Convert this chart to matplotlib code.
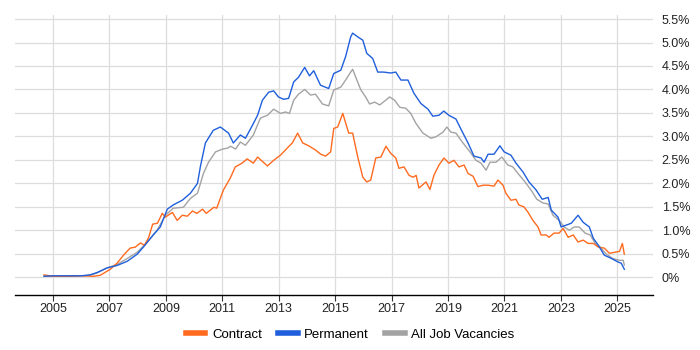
import matplotlib
matplotlib.use("Agg")
import matplotlib.pyplot as plt
from matplotlib.ticker import FuncFormatter
from matplotlib.lines import Line2D

plt.rcParams['font.family'] = ['Liberation Sans', 'DejaVu Sans']

contract_years = [2004.68, 2005.0, 2005.5, 2006.0, 2006.43, 2006.67, 2007.03, 2007.27, 2007.5, 2007.73,
                  2007.91, 2008.1, 2008.24, 2008.39, 2008.53, 2008.7, 2008.87, 2008.98, 2009.23, 2009.4,
                  2009.58, 2009.76, 2009.94, 2010.1, 2010.3, 2010.43, 2010.7, 2010.8, 2011.04, 2011.28,
                  2011.46, 2011.7, 2011.88, 2012.1, 2012.25, 2012.6, 2012.82, 2013.06, 2013.3, 2013.48,
                  2013.67, 2013.85, 2014.06, 2014.3, 2014.49, 2014.66, 2014.84, 2014.95, 2015.09, 2015.27,
                  2015.48, 2015.62, 2015.8, 2015.98, 2016.12, 2016.26, 2016.44, 2016.62, 2016.8, 2016.97,
                  2017.15, 2017.26, 2017.44, 2017.62, 2017.76, 2017.87, 2017.97, 2018.22, 2018.36, 2018.5,
                  2018.68, 2018.86, 2019.03, 2019.21, 2019.39, 2019.57, 2019.71, 2019.89, 2020.06, 2020.24,
                  2020.42, 2020.63, 2020.77, 2020.95, 2021.05, 2021.23, 2021.41, 2021.51, 2021.69, 2021.83,
                  2022.01, 2022.19, 2022.3, 2022.48, 2022.58, 2022.76, 2022.94, 2023.08, 2023.26, 2023.44,
                  2023.61, 2023.79, 2023.97, 2024.15, 2024.33, 2024.54, 2024.72, 2024.9, 2025.08, 2025.18,
                  2025.25]
contract_vals = [0.05, 0.02, 0.02, 0.03, 0.02, 0.04, 0.17, 0.30, 0.47, 0.62,
                 0.64, 0.73, 0.68, 0.85, 1.13, 1.15, 1.36, 1.28, 1.38, 1.21,
                 1.32, 1.30, 1.41, 1.36, 1.45, 1.36, 1.49, 1.47, 1.86, 2.11,
                 2.35, 2.43, 2.52, 2.43, 2.56, 2.37, 2.49, 2.60, 2.75, 2.86,
                 3.07, 2.86, 2.80, 2.71, 2.62, 2.58, 2.67, 3.17, 3.20, 3.49,
                 3.07, 3.07, 2.56, 2.13, 2.03, 2.07, 2.54, 2.56, 2.79, 2.64,
                 2.54, 2.32, 2.35, 2.17, 2.13, 2.17, 1.90, 2.03, 1.87, 2.17,
                 2.39, 2.54, 2.43, 2.49, 2.35, 2.39, 2.21, 2.15, 1.93, 1.96,
                 1.96, 1.94, 2.07, 1.96, 1.79, 1.64, 1.66, 1.54, 1.50, 1.39,
                 1.21, 1.07, 0.90, 0.90, 0.85, 0.94, 0.94, 1.04, 0.85, 0.90,
                 0.75, 0.79, 0.72, 0.72, 0.64, 0.62, 0.51, 0.53, 0.55, 0.72,
                 0.49]

perm_years = [2004.68, 2005.0, 2005.5, 2006.0, 2006.31, 2006.56, 2006.92, 2007.27, 2007.63, 2007.98,
              2008.2, 2008.55, 2008.8, 2009.05, 2009.26, 2009.58, 2009.87, 2010.12, 2010.22, 2010.4,
              2010.68, 2010.93, 2011.22, 2011.39, 2011.64, 2011.82, 2012.07, 2012.25, 2012.42, 2012.64,
              2012.82, 2012.99, 2013.17, 2013.35, 2013.53, 2013.7, 2013.92, 2014.09, 2014.24, 2014.48,
              2014.77, 2014.95, 2015.2, 2015.37, 2015.55, 2015.62, 2015.8, 2015.98, 2016.12, 2016.33,
              2016.51, 2016.72, 2016.97, 2017.15, 2017.33, 2017.58, 2017.79, 2018.04, 2018.29, 2018.46,
              2018.68, 2018.85, 2019.03, 2019.28, 2019.53, 2019.71, 2019.92, 2020.17, 2020.28, 2020.42,
              2020.63, 2020.84, 2020.99, 2021.23, 2021.41, 2021.66, 2021.87, 2022.12, 2022.34, 2022.55,
              2022.66, 2022.9, 2023.01, 2023.19, 2023.37, 2023.61, 2023.79, 2024.01, 2024.15, 2024.33,
              2024.54, 2024.79, 2025.04, 2025.14, 2025.25]
perm_vals = [0.02, 0.03, 0.03, 0.03, 0.05, 0.10, 0.20, 0.25, 0.34, 0.49,
             0.64, 0.90, 1.07, 1.45, 1.54, 1.64, 1.79, 2.00, 2.35, 2.86,
             3.13, 3.20, 3.07, 2.86, 3.03, 2.96, 3.24, 3.45, 3.77, 3.94,
             3.97, 3.84, 3.79, 3.81, 4.16, 4.26, 4.47, 4.29, 4.40, 4.09,
             4.02, 4.34, 4.41, 4.70, 5.12, 5.20, 5.12, 5.05, 4.77, 4.66,
             4.37, 4.37, 4.35, 4.37, 4.20, 4.20, 3.92, 3.70, 3.58, 3.43,
             3.45, 3.54, 3.45, 3.37, 3.07, 2.86, 2.58, 2.54, 2.45, 2.62,
             2.62, 2.80, 2.67, 2.60, 2.43, 2.24, 2.03, 1.86, 1.66, 1.70,
             1.43, 1.28, 1.07, 1.11, 1.15, 1.32, 1.17, 1.07, 0.83, 0.68,
             0.47, 0.40, 0.32, 0.30, 0.17]

all_years = [2004.68, 2005.5, 2006.0, 2006.3, 2006.56, 2006.92, 2007.27, 2007.63, 2007.98, 2008.34,
             2008.69, 2008.98, 2009.26, 2009.62, 2009.87, 2010.12, 2010.33, 2010.51, 2010.76, 2011.01,
             2011.19, 2011.29, 2011.47, 2011.64, 2011.82, 2012.1, 2012.35, 2012.6, 2012.82, 2013.06,
             2013.24, 2013.38, 2013.53, 2013.7, 2013.92, 2014.13, 2014.3, 2014.55, 2014.77, 2014.95,
             2015.2, 2015.37, 2015.55, 2015.62, 2015.73, 2015.91, 2016.08, 2016.22, 2016.4, 2016.58,
             2016.79, 2016.93, 2017.11, 2017.29, 2017.5, 2017.68, 2017.86, 2018.11, 2018.22, 2018.39,
             2018.57, 2018.82, 2018.96, 2019.1, 2019.28, 2019.53, 2019.78, 2019.99, 2020.17, 2020.35,
             2020.49, 2020.7, 2020.91, 2021.12, 2021.3, 2021.48, 2021.73, 2021.94, 2022.15, 2022.37,
             2022.55, 2022.72, 2022.94, 2023.12, 2023.3, 2023.47, 2023.65, 2023.86, 2024.04, 2024.22,
             2024.4, 2024.58, 2024.83, 2025.07, 2025.21, 2025.25]
all_vals = [0.02, 0.02, 0.03, 0.04, 0.09, 0.20, 0.27, 0.40, 0.53, 0.75,
            1.00, 1.32, 1.47, 1.49, 1.68, 1.79, 2.21, 2.45, 2.67, 2.73,
            2.75, 2.79, 2.73, 2.88, 2.81, 3.03, 3.39, 3.45, 3.58, 3.49,
            3.52, 3.49, 3.77, 3.90, 4.00, 3.88, 3.90, 3.69, 3.65, 3.99,
            4.05, 4.20, 4.37, 4.43, 4.26, 3.99, 3.84, 3.69, 3.73, 3.67,
            3.77, 3.84, 3.77, 3.62, 3.60, 3.49, 3.28, 3.07, 3.03, 2.96,
            2.99, 3.09, 3.20, 3.09, 3.07, 2.86, 2.67, 2.49, 2.43, 2.28,
            2.45, 2.45, 2.56, 2.39, 2.35, 2.21, 2.03, 1.86, 1.66, 1.58,
            1.56, 1.32, 1.21, 1.07, 1.00, 1.07, 1.07, 0.94, 0.90, 0.72,
            0.64, 0.51, 0.40, 0.36, 0.36, 0.26]

x_ticks = [2005, 2007, 2009, 2011, 2013, 2015, 2017, 2019, 2021, 2023, 2025]
y_ticks = [0, 0.5, 1.0, 1.5, 2.0, 2.5, 3.0, 3.5, 4.0, 4.5, 5.0, 5.5]

c_contract = "#ff6a1f"
c_perm = "#1f5fdc"
c_all = "#a3a3a3"

fig = plt.figure(figsize=(7, 3.5), dpi=100)
ax = fig.add_axes([0.0214, 0.157, 0.912, 0.8])

ax.plot(all_years, all_vals, color=c_all, lw=1.0, zorder=3)
ax.plot(contract_years, contract_vals, color=c_contract, lw=1.0, zorder=4)
ax.plot(perm_years, perm_vals, color=c_perm, lw=1.0, zorder=5)

ax.set_xlim(2003.65, 2026.28)
ax.set_ylim(-0.38, 5.585)

ax.set_xticks(x_ticks)
ax.set_xticklabels([str(t) for t in x_ticks])
ax.set_yticks(y_ticks)
ax.yaxis.set_major_formatter(FuncFormatter(lambda v, p: "0%" if v == 0 else f"{v:.1f}%"))
ax.yaxis.tick_right()
ax.tick_params(axis="y", length=0, pad=6, labelsize=9, labelcolor="#222222")
ax.tick_params(axis="x", length=4, width=0.8, color="#333333", pad=2, labelsize=9, labelcolor="#222222")

ax.grid(True, color="#dddddd", lw=0.9, zorder=0)
ax.set_axisbelow(True)
for s in ["top", "right", "left"]:
    ax.spines[s].set_visible(False)
ax.spines["bottom"].set_color("#000000")
ax.spines["bottom"].set_linewidth(1.0)

handles = [Line2D([], [], color=c_contract, lw=4),
           Line2D([], [], color=c_perm, lw=4),
           Line2D([], [], color=c_all, lw=4)]
fig.legend(handles, ["Contract", "Permanent", "All Job Vacancies"], loc="center",
           bbox_to_anchor=(0.5, 0.043), ncol=3, frameon=False, fontsize=9.5,
           handlelength=1.5, handletextpad=0.5, columnspacing=1.2)

fig.savefig("out.png", dpi=100)
